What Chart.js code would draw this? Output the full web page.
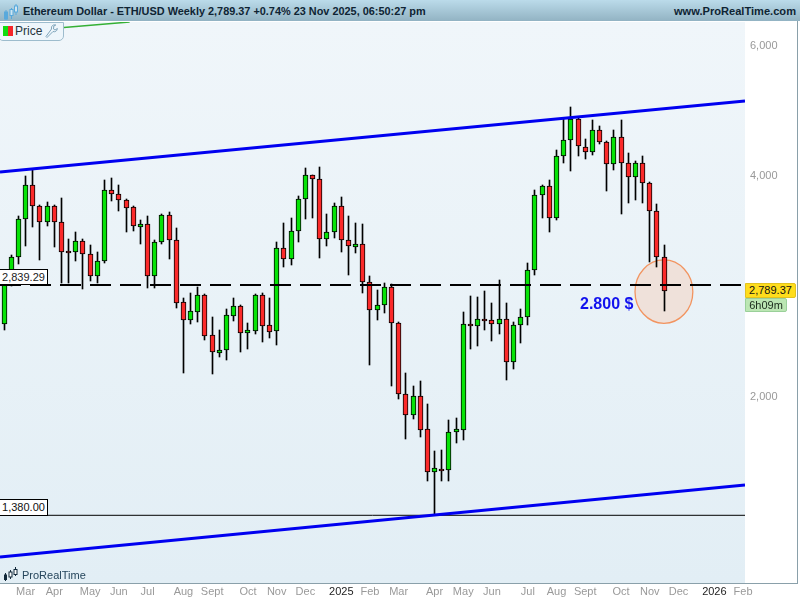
<!DOCTYPE html>
<html>
<head>
<meta charset="utf-8">
<title>Ethereum Dollar - ETH/USD Weekly</title>
<script src="https://cdn.jsdelivr.net/npm/chart.js@4"></script>
<style>
html,body{margin:0;padding:0;background:#fff;width:800px;height:600px;overflow:hidden;font-family:"Liberation Sans",Arial,sans-serif}
#wrap{position:relative;width:800px;height:600px}
canvas{position:absolute;left:0;top:0}
.o{position:absolute;box-sizing:border-box;white-space:nowrap}
#head{left:0;top:0;width:800px;height:21px;background:linear-gradient(#bbdbea,#92b3c3)}
#t1{left:23px;top:4px;font:bold 10.9px/14px "Liberation Sans";color:#0f2433}
#t2{right:4px;top:4px;font:bold 11.1px/14px "Liberation Sans";color:#0f2433}
#pill{left:-2px;top:22px;width:66px;height:19px;background:#eef6fb;border:1px solid #9dbccd;border-radius:0 0 5px 5px}
#pillT{left:15px;top:24px;font:12px/14px "Liberation Sans";color:#26343d}
.swg{left:3px;top:26px;width:5px;height:10px;background:#0fdc0f}
.swr{left:8px;top:26px;width:5px;height:10px;background:#f5262a}
.tag{font:11px/14px "Liberation Sans";color:#111;text-align:center}
#lb1{left:-1px;top:269px;width:49px;height:16px;background:#fff;border:1px solid #000;color:#222;line-height:14px}
#lb2{left:-1px;top:499px;width:49px;height:17px;background:#fff;border:1px solid #000;color:#111;line-height:15px}
#tagY{left:745px;top:283px;width:51px;height:15px;background:#ffdd1c;border:1px solid #e2c220;border-radius:0 2px 2px 0;line-height:13px}
#tagG{left:745px;top:298px;width:42px;height:14px;background:#bbe6b3;border:1px solid #9ad09a;border-radius:0 2px 2px 0;line-height:12px;color:#1b2b1b}
#note{left:580px;top:294px;font:bold 16px/20px "Liberation Sans";color:#1212ee}
#prt{left:22px;top:569px;font:11px/13px "Liberation Sans";color:#26465c}
#ax{left:0;top:583px;width:798px;height:1px;background:#8aa0aa}
#ay{left:797px;top:21px;width:1px;height:563px;background:#8aa0aa}
</style>
</head>
<body>
<div id="wrap">
<canvas id="c" width="800" height="600"></canvas>
<div class="o" id="head"></div>
<svg class="o" style="left:3px;top:3px" width="16" height="18" viewBox="0 0 16 18">
 <g stroke="#58a9dc" fill="#58a9dc"><path d="M3 7v10M8.500 5v11M13 1v11" stroke-width="1" fill="none"/>
 <rect x="1.500" y="9" width="3" height="7"/><rect x="7" y="6.500" width="3" height="6" fill="#cfe6f2"/><rect x="11.500" y="3" width="3" height="6" fill="#cfe6f2"/></g>
</svg>
<div class="o" id="t1">Ethereum Dollar - ETH/USD Weekly 2,789.37 +0.74% 23 Nov 2025, 06:50:27 pm</div>
<div class="o" id="t2">www.ProRealTime.com</div>
<div class="o" id="pill"></div>
<div class="o swg"></div><div class="o swr"></div>
<div class="o" id="pillT">Price</div>
<svg class="o" style="left:45px;top:24px" width="13" height="14" viewBox="0 0 13 14"><path d="M1 12.500l1 1 6-6c2 .8 4-.2 4.400-3L10 6 8.500 5l.3-3 2-1C8 .3 6 2 6.500 5z" fill="none" stroke="#7fa5bb" stroke-width="1"/></svg>
<div class="o tag" id="lb1">2,839.29</div>
<div class="o tag" id="lb2">1,380.00</div>
<div class="o tag" id="tagY">2,789.37</div>
<div class="o tag" id="tagG">6h09m</div>
<div class="o" id="note">2.800 $</div>
<svg class="o" style="left:3px;top:567px" width="16" height="14" viewBox="0 0 16 14">
 <path d="M2.500 6v8M7.500 3v9M12.500 0v9" stroke="#12293a" stroke-width="1"/>
 <rect x="1" y="7.500" width="3" height="5.500" fill="#12293a"/><rect x="6" y="5" width="3" height="5" fill="#fff" stroke="#12293a"/><rect x="11" y="2.500" width="3" height="5" fill="#fff" stroke="#12293a"/>
</svg>
<div class="o" id="prt">ProRealTime</div>
<div class="o" id="ax"></div>
<div class="o" id="ay"></div>
</div>
<script>
const opens=[2510,2848,3103,3489,3881,3640,3456,3640,3456,3158,3146,3256,3132,2924,3064,3820,3773,3703,3622,3409,3435,2924,3246,3533,3266,2690,2546,2611,2749,2426,2297,2314,2579,2655,2441,2461,2749,2503,2456,3185,3078,3360,3714,4004,3954,3276,3349,3634,3266,3202,3226,2864,2623,2664,2819,2518,2016,1888,2003,1807,1579,1594,1589,1790,1805,2510,2495,2549,2542,2510,2549,2229,2503,2570,2973,3761,3869,3500,4248,4468,4772,4380,4302,4610,4440,4144,4509,4157,3979,4157,3905,3577,3097];
const highs=[2857,3120,3525,3995,4071,3648,3680,3648,3726,3277,3349,3279,3218,3146,3945,3966,3884,3714,3637,3481,3525,3269,3544,3566,3391,2724,2767,2822,2758,2566,2466,2633,2724,2667,2518,2758,2767,2726,3246,3445,3500,3750,4093,4008,4110,3544,3668,3738,3525,3445,3435,2921,2795,2855,2846,2526,2153,2069,2101,1956,1688,1693,1860,1870,2606,2743,2732,2784,2681,2884,2681,2526,2631,3040,3824,3884,3945,4334,4772,4955,4787,4482,4761,4668,4453,4614,4761,4288,4183,4248,3917,3656,3215];
const lows=[2468,2830,3033,3208,3409,3071,3419,3201,2855,2860,3061,2807,2878,2860,3045,3698,3583,3355,3366,3232,2815,2815,3229,3081,2644,2158,2515,2531,2390,2149,2268,2245,2539,2304,2323,2438,2377,2408,2353,3007,3023,3249,3492,3506,3093,3208,3293,3152,2930,3142,2772,2213,2544,2603,2070,1988,1754,1868,1765,1538,1381,1538,1538,1732,1747,2323,2346,2466,2385,2436,2108,2183,2370,2505,2930,3506,3355,3481,4165,4062,4259,4217,4271,4421,3816,4075,3550,3675,3710,3675,3049,3001,2619];
const closes=[2840,3103,3489,3881,3640,3456,3640,3456,3152,3146,3256,3132,2924,3064,3820,3773,3703,3617,3413,3435,2924,3246,3533,3266,2686,2546,2614,2749,2423,2300,2314,2582,2655,2441,2464,2749,2500,2453,3185,3078,3360,3714,4004,3954,3276,3349,3634,3266,3206,3226,2864,2623,2664,2819,2518,2016,1888,2003,1805,1579,1599,1587,1790,1807,2510,2495,2549,2538,2510,2549,2229,2503,2566,2973,3761,3869,3500,4248,4468,4772,4385,4302,4610,4440,4144,4509,4157,3979,4157,3905,3577,3097,2789.37];
const monthTicks=[3,7,12,16,20,25,29,34,38,42,47,51,55,60,64,68,73,77,81,86,90,94,99,103];
const monthLabels=["Mar","Apr","May","Jun","Jul","Aug","Sept","Oct","Nov","Dec","2025","Feb","Mar","Apr","May","Jun","Jul","Aug","Sept","Oct","Nov","Dec","2026","Feb"];
const priceTicks=[2000,4000,6000];
const xRange=[-0.5645,103.27];
const yRange=[1116.3,6472];
const upperChannelX=[-0.5645,103.27], upperChannelY=[4045,5053];
const lowerChannelX=[-0.5645,103.27], lowerChannelY=[1211,1518];
const greenLineX=[7.5,17.5], greenLineY=[6352,6472];
const supportLevel=2839.29;
const lowLevel=1380;
const zoneX=[87.94,96.0], zoneY=[3071,2518];

const BLUE='#0000f0', UP='#07e307', DOWN='#fb2a2a';
const seg=(xs,ys)=>xs.map((x,i)=>({x,y:ys[i]}));
const idx=opens.map((_,i)=>i);

const snap={id:'snap',afterDatasetsUpdate(chart){
  chart.data.datasets.forEach((d,di)=>{
    if(d.type!=='bar')return;
    chart.getDatasetMeta(di).data.forEach(el=>{
      el.x=Math.floor(el.x)+0.5;
      el.y=Math.round(el.y);
      el.base=Math.round(el.base);
      if(Math.abs(el.base-el.y)<2) el.base=el.y+2;
    });
  });
}};
const backdrop={id:'backdrop',beforeDraw(chart){
  const {ctx,chartArea:a}=chart;
  const g=ctx.createLinearGradient(0,a.top,0,a.bottom);
  g.addColorStop(0,'#f0f6fa');g.addColorStop(1,'#e2eef5');
  ctx.save();ctx.fillStyle=g;ctx.fillRect(a.left,a.top,a.right-a.left,a.bottom-a.top);ctx.restore();
},beforeDatasetsDraw(chart){
  const {ctx,scales:{x,y}}=chart;
  const x0=x.getPixelForValue(zoneX[0]),x1=x.getPixelForValue(zoneX[1]);
  const y0=y.getPixelForValue(zoneY[0]),y1=y.getPixelForValue(zoneY[1]);
  ctx.save();ctx.beginPath();
  ctx.ellipse((x0+x1)/2,(y0+y1)/2,(x1-x0)/2,(y1-y0)/2,0,0,Math.PI*2);
  ctx.fillStyle='#efe1da';ctx.fill();
  ctx.lineWidth=1.3;ctx.strokeStyle='#f29460';ctx.stroke();ctx.restore();
}};

new Chart(document.getElementById('c'),{
  type:'bar',
  plugins:[snap,backdrop],
  data:{datasets:[
    {type:'bar',label:'Range',order:6,grouped:false,barThickness:1,backgroundColor:'#000',borderWidth:0,
     data:idx.map(i=>({x:i,y:[lows[i],highs[i]]}))},
    {type:'bar',label:'Price',order:5,grouped:false,barThickness:5,borderSkipped:false,borderWidth:1,borderColor:'#000',
     backgroundColor:idx.map(i=>closes[i]>=opens[i]?UP:DOWN),
     data:idx.map(i=>({x:i,y:[opens[i],closes[i]]}))},
    {type:'line',label:'Upper channel',order:1,borderColor:BLUE,borderWidth:3,pointRadius:0,data:seg(upperChannelX,upperChannelY)},
    {type:'line',label:'Lower channel',order:1,borderColor:BLUE,borderWidth:3,pointRadius:0,data:seg(lowerChannelX,lowerChannelY)},
    {type:'line',label:'Trend',order:3,borderColor:'#35b035',borderWidth:1.5,pointRadius:0,data:seg(greenLineX,greenLineY)},
    {type:'line',label:'Support',order:2,borderColor:'#000',borderWidth:2,borderDash:[21,9],pointRadius:0,data:seg(xRange,[supportLevel,supportLevel])},
    {type:'line',label:'Low',order:2,borderColor:'#000',borderWidth:1,pointRadius:0,data:seg(xRange,[lowLevel,lowLevel])}
  ]},
  options:{
    responsive:false,animation:false,events:[],
    layout:{autoPadding:false,padding:{top:22,left:0,right:0,bottom:0}},
    plugins:{legend:{display:false},title:{display:false},tooltip:{enabled:false}},
    scales:{
      x:{type:'linear',min:xRange[0],max:xRange[1],offset:false,
        grid:{display:false,drawTicks:false},border:{display:false},
        afterBuildTicks(a){a.ticks=monthTicks.map(v=>({value:v}));},
        afterFit(a){a.height=17;},
        ticks:{autoSkip:false,maxRotation:0,minRotation:0,padding:2,
          font:{family:'"Liberation Sans"',size:11},
          color(c){const l=monthLabels[monthTicks.indexOf(c.tick.value)];return /^20/.test(l)?'#222':'#999';},
          callback(v){return monthLabels[monthTicks.indexOf(v)];}}
      },
      y:{type:'logarithmic',position:'right',min:yRange[0],max:yRange[1],
        grid:{display:false,drawTicks:false},border:{display:false},
        afterBuildTicks(a){a.ticks=priceTicks.map(v=>({value:v}));},
        afterFit(a){a.width=55;},
        ticks:{autoSkip:false,padding:5,font:{family:'"Liberation Sans"',size:11},color:'#999',
          callback(v){return v.toLocaleString('en-US');}}
      }
    }
  }
});
</script>
</body>
</html>
